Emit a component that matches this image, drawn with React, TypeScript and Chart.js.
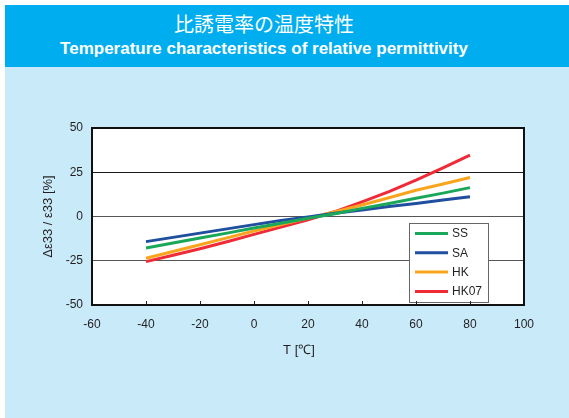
import React, { useEffect, useRef } from "react";
import { Chart, registerables } from "chart.js";

Chart.register(...registerables);

const temperatures = [-40, -30, -20, -10, 0, 10, 20, 30, 40, 50, 60, 70, 80];
const seriesNames = ["SS", "SA", "HK", "HK07"];
const ssValues = [-17.8, -15.0, -12.2, -9.4, -6.5, -3.8, -1.0, 1.6, 4.6, 7.4, 10.3, 13.2, 16.3];
const saValues = [-14.2, -11.8, -9.4, -7.0, -4.6, -2.3, -0.3, 1.8, 3.7, 5.6, 7.4, 9.3, 11.2];
const hkValues = [-23.6, -19.8, -16.0, -12.1, -8.2, -4.5, -0.9, 2.7, 6.5, 10.6, 14.8, 18.4, 22.0];
const hk07Values = [-25.5, -21.9, -18.2, -14.3, -10.1, -6.0, -1.8, 2.8, 8.3, 14.0, 20.5, 27.5, 34.7];
const xTickRange = { min: -60, max: 100, step: 20 };
const yTickRange = { min: -50, max: 50, step: 25 };
const xAxisTitle = "T [℃]";
const yAxisTitle = "Δε33 / ε33 [%]";

const seriesColors = ["#1aa75a", "#1f4f9e", "#f8a51d", "#ee2b36"];
const FONT = "'Liberation Sans', Arial, Helvetica, sans-serif";
const TEXT = "#231f20";

const framePlugin = {
  id: "frameAndLegend",
  beforeDraw(chart: any) {
    const { ctx, chartArea } = chart;
    ctx.save();
    ctx.fillStyle = "#ffffff";
    ctx.fillRect(chartArea.left, chartArea.top, chartArea.right - chartArea.left, chartArea.bottom - chartArea.top);
    ctx.restore();
  },
  afterDatasetsDraw(chart: any) {
    const { ctx, chartArea } = chart;
    const w = 79;
    const h = 79;
    const x = chartArea.right - 36 - w;
    const y = chartArea.bottom - 3 - h;
    ctx.save();
    ctx.fillStyle = "#ffffff";
    ctx.fillRect(x, y, w, h);
    ctx.strokeStyle = "#666666";
    ctx.lineWidth = 1;
    ctx.strokeRect(x + 0.5, y + 0.5, w, h);
    ctx.font = `12px ${FONT}`;
    ctx.textBaseline = "middle";
    ctx.textAlign = "left";
    chart.data.datasets.forEach((ds: any, i: number) => {
      const cy = y + 10.5 + i * 19.3;
      ctx.strokeStyle = ds.borderColor;
      ctx.lineWidth = 3;
      ctx.beginPath();
      ctx.moveTo(x + 6, cy);
      ctx.lineTo(x + 39, cy);
      ctx.stroke();
      ctx.fillStyle = TEXT;
      ctx.fillText(ds.label, x + 43, cy + 0.5);
    });
    ctx.restore();
  },
  afterDraw(chart: any) {
    const { ctx, chartArea, scales } = chart;
    ctx.save();
    ctx.strokeStyle = TEXT;
    ctx.lineWidth = 1;
    const xs = scales.x;
    xs.ticks.forEach((t: any) => {
      if (t.value <= xs.min || t.value >= xs.max) return;
      const px = Math.round(xs.getPixelForValue(t.value)) + 0.5;
      ctx.beginPath();
      ctx.moveTo(px, chartArea.bottom);
      ctx.lineTo(px, chartArea.bottom - 4);
      ctx.stroke();
    });
    ctx.lineWidth = 2;
    ctx.strokeStyle = "#111111";
    ctx.strokeRect(chartArea.left, chartArea.top, chartArea.right - chartArea.left, chartArea.bottom - chartArea.top);
    // x-axis title, slightly left of the plot centre as in the original
    ctx.fillStyle = TEXT;
    ctx.font = `13px ${FONT}`;
    ctx.textAlign = "center";
    ctx.textBaseline = "middle";
    ctx.fillText(xAxisTitle, (chartArea.left + chartArea.right) / 2 - 9, chartArea.bottom + 45);
    ctx.restore();
  },
};

export default function App() {
  const canvasRef = useRef<HTMLCanvasElement | null>(null);

  useEffect(() => {
    if (!canvasRef.current) return;
    const valueSets = [ssValues, saValues, hkValues, hk07Values];
    const chart = new Chart(canvasRef.current, {
      type: "line",
      data: {
        datasets: seriesNames.map((name, i) => ({
          label: name,
          data: temperatures.map((t, j) => ({ x: t, y: valueSets[i][j] })),
          borderColor: seriesColors[i],
          backgroundColor: seriesColors[i],
          borderWidth: 3,
          pointRadius: 0,
          tension: 0,
          fill: false,
        })),
      },
      options: {
        animation: false,
        responsive: false,
        devicePixelRatio: 1,
        layout: { padding: { top: 128, right: 45, left: 0, bottom: 0 } },
        plugins: { legend: { display: false }, tooltip: { enabled: false } },
        scales: {
          x: {
            type: "linear",
            min: xTickRange.min,
            max: xTickRange.max,
            grid: { display: false, drawTicks: false },
            border: { display: false },
            ticks: {
              stepSize: xTickRange.step,
              padding: 12,
              color: TEXT,
              font: { family: FONT, size: 12 },
              maxRotation: 0,
            },
            title: { display: false },
            afterFit: (s: any) => {
              s.height = 113;
            },
          },
          y: {
            min: yTickRange.min,
            max: yTickRange.max,
            grid: {
              drawTicks: false,
              color: (c: any) => (c.tick && c.tick.value === 25 ? "#1a1a1a" : "#555555"),
              lineWidth: 1,
            },
            border: { display: false },
            ticks: {
              stepSize: yTickRange.step,
              padding: 9,
              color: TEXT,
              font: { family: FONT, size: 12 },
            },
            title: {
              display: true,
              text: yAxisTitle,
              color: TEXT,
              font: { family: FONT, size: 13 },
              padding: { top: 40.2, bottom: 0 },
            },
            afterFit: (s: any) => {
              s.width = 92;
            },
          },
        },
      },
      plugins: [framePlugin],
    });
    return () => chart.destroy();
  }, []);

  return (
    <div style={{ position: "absolute", left: 0, top: 0, width: 569, height: 418, background: "#ffffff", overflow: "hidden" }}>
      <div style={{ position: "absolute", left: 5, top: 5, width: 564, height: 62, background: "#00aeef" }}>
        <div
          style={{
            position: "absolute",
            left: 0,
            top: 9,
            width: 518,
            height: 20,
            lineHeight: "20px",
            textAlign: "center",
            color: "#ffffff",
            fontFamily: "'Noto Sans CJK JP', sans-serif",
            fontSize: 20,
            whiteSpace: "nowrap",
          }}
        >
          比誘電率の温度特性
        </div>
        <div
          style={{
            position: "absolute",
            left: 0,
            top: 34,
            width: 518,
            height: 20,
            lineHeight: "20px",
            textAlign: "center",
            color: "#ffffff",
            fontFamily: FONT,
            fontWeight: "bold",
            fontSize: 17,
            whiteSpace: "nowrap",
          }}
        >
          Temperature characteristics of relative permittivity
        </div>
      </div>
      <div style={{ position: "absolute", left: 5, top: 67, width: 564, height: 351, background: "#c8eaf9" }} />
      <canvas ref={canvasRef} width={569} height={418} style={{ position: "absolute", left: 0, top: 0, width: 569, height: 418 }} />
    </div>
  );
}
